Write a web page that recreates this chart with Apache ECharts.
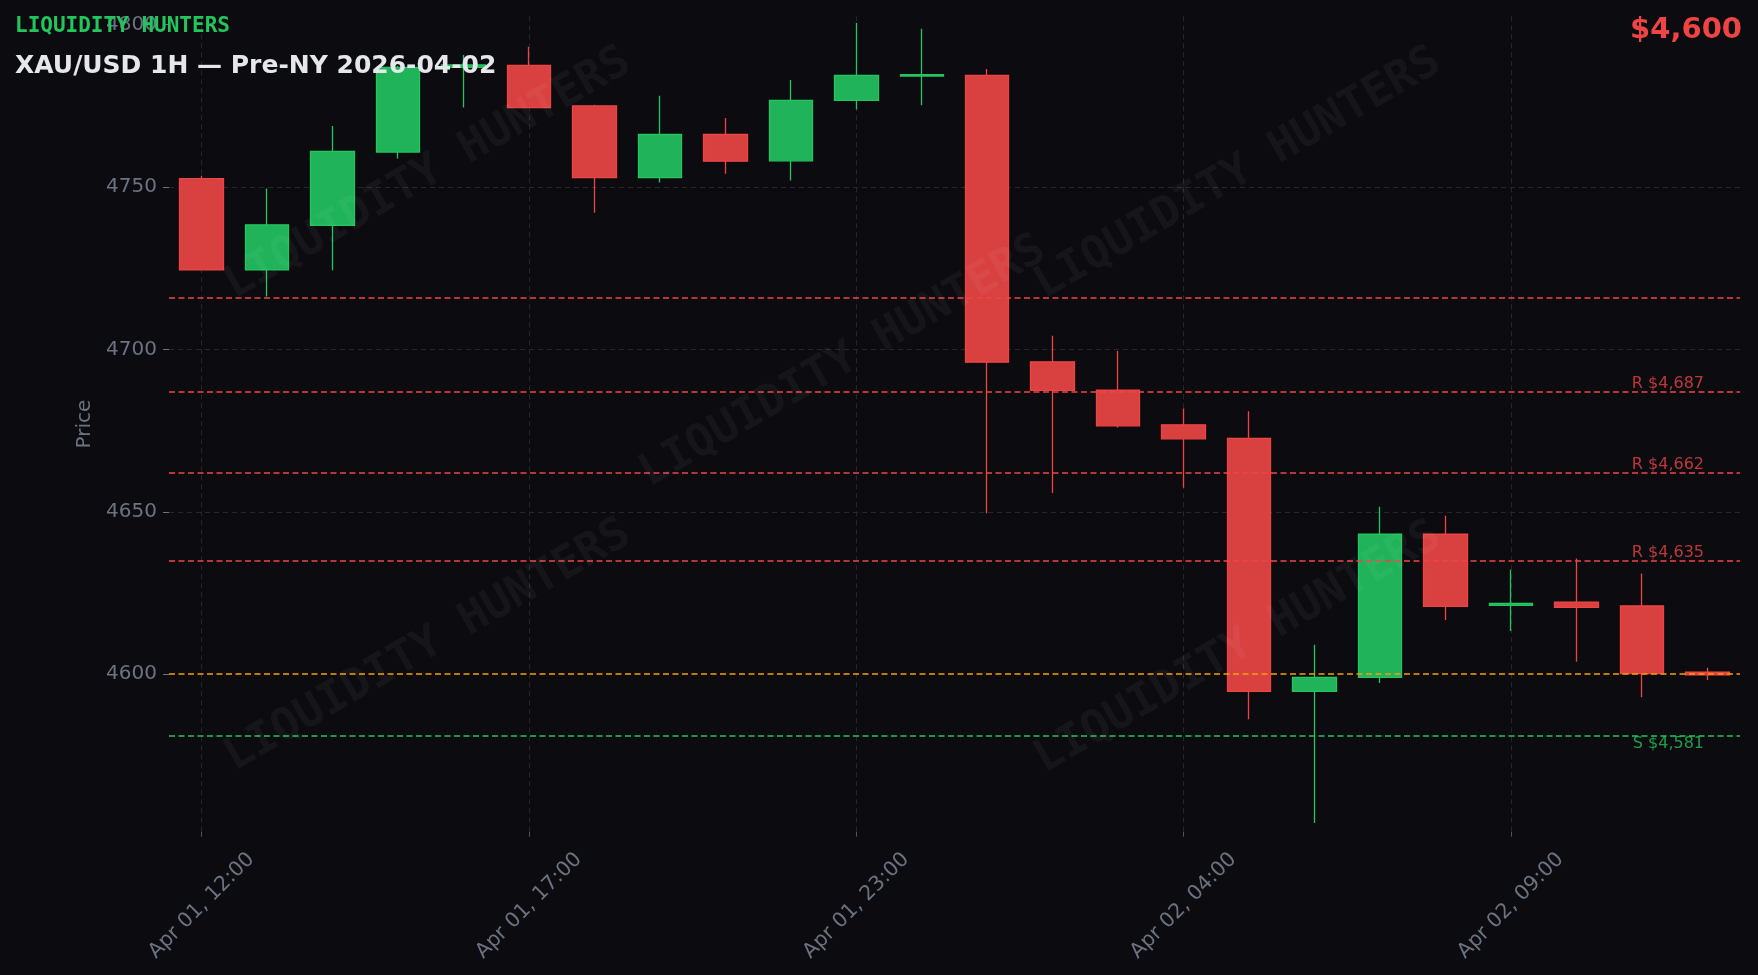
<!DOCTYPE html>
<html>
<head>
<meta charset="utf-8">
<script src="https://cdn.jsdelivr.net/npm/echarts@6/dist/echarts.min.js"></script>
<style>
html,body{margin:0;padding:0;background:#0c0c10;}
#chart{width:1758px;height:975px;}
</style>
</head>
<body>
<div id="chart"></div>
<script>
// ---- data ----
const categories = [
  'Apr 01, 12:00','Apr 01, 13:00','Apr 01, 14:00','Apr 01, 15:00','Apr 01, 16:00',
  'Apr 01, 17:00','Apr 01, 18:00','Apr 01, 19:00','Apr 01, 20:00','Apr 01, 21:00',
  'Apr 01, 23:00','Apr 02, 00:00','Apr 02, 01:00','Apr 02, 02:00','Apr 02, 03:00',
  'Apr 02, 04:00','Apr 02, 05:00','Apr 02, 06:00','Apr 02, 07:00','Apr 02, 08:00',
  'Apr 02, 09:00','Apr 02, 10:00','Apr 02, 11:00','Apr 02, 12:00'
];
const opens  = [4752.6,4724.5,4738.2,4760.8,4786.9,4787.5,4775.0,4752.9,4766.2,4758.1,4776.7,4784.2,4784.4,4696.2,4687.5,4676.8,4672.6,4594.7,4599.0,4643.1,4621.2,4622.2,4621.0,4600.6];
const closes = [4724.5,4738.4,4761.0,4786.9,4787.6,4774.5,4752.9,4766.2,4758.0,4776.7,4784.4,4784.6,4696.1,4687.4,4676.5,4672.5,4594.7,4599.0,4643.1,4620.9,4621.8,4620.6,4600.2,4599.8];
const lows   = [4724.5,4716.3,4724.4,4758.8,4774.5,4774.3,4742.1,4751.4,4754.1,4752.0,4773.9,4775.2,4649.6,4655.8,4676.0,4657.4,4586.1,4554.2,4597.3,4616.7,4613.3,4603.8,4592.9,4598.2];
const highs  = [4753.5,4749.6,4768.8,4787.4,4790.7,4793.2,4775.4,4778.1,4771.3,4783.0,4800.5,4798.8,4786.4,4704.2,4699.5,4681.8,4681.0,4609.1,4651.6,4648.8,4632.2,4635.6,4631.0,4602.0];

const resistanceLevels = [4716, 4687, 4662, 4635];
const resistanceLabels = ['', 'R $4,687', 'R $4,662', 'R $4,635'];
const supportLevels = [4581];
const supportLabels = ['S $4,581'];
const currentPrice = 4600;
const currentPriceText = '$4,600';
const yTickValues = [4600, 4650, 4700, 4750, 4800];
const chartTitle = 'XAU/USD 1H — Pre-NY 2026-04-02';
const brandText = 'LIQUIDITY HUNTERS';

// ---- build ----
const candleData = opens.map((o, i) => [o, closes[i], lows[i], highs[i]]);
const FONT = 'DejaVu Sans';
const GRID_COLOR = '#25262e';
const LABEL_COLOR = '#6b7280';

const markData = [];
resistanceLevels.forEach((v, i) => {
  markData.push({
    yAxis: v,
    lineStyle: {color: '#ef4444', type: [6, 3.5], width: 1.5},
    label: {show: !!resistanceLabels[i], formatter: resistanceLabels[i], position: 'insideEndTop',
            color: 'rgba(239,68,68,0.78)', fontSize: 16, fontFamily: FONT, distance: [36, 0]}
  });
});
markData.push({
  yAxis: currentPrice,
  lineStyle: {color: '#f59e0b', type: [6, 3.5], width: 1.5},
  label: {show: false}
});
supportLevels.forEach((v, i) => {
  markData.push({
    yAxis: v,
    lineStyle: {color: '#22c55e', type: [6, 3.5], width: 1.5},
    label: {show: true, formatter: supportLabels[i], position: 'insideEndBottom',
            color: 'rgba(34,197,94,0.78)', fontSize: 16, fontFamily: FONT, distance: [36, 0]}
  });
});

const wm = {fontFamily: 'DejaVu Sans Mono', fontWeight: 'bold', fontSize: 45,
            fill: 'rgba(255,255,255,0.045)', align: 'center', verticalAlign: 'middle'};
const watermarkPos = [[428,174],[843,362],[1238,174],[428,646],[1238,648]];

const chart = echarts.init(document.getElementById('chart'));
chart.setOption({
  backgroundColor: '#0c0c10',
  animation: false,
  textStyle: {fontFamily: FONT},
  title: [
    {text: brandText, left: 15, top: 16, padding: 0,
     textStyle: {fontFamily: 'DejaVu Sans Mono', fontWeight: 'bold', fontSize: 21, color: '#22c55e'}},
    {text: chartTitle, left: 15, top: 54, padding: 0,
     textStyle: {fontFamily: FONT, fontWeight: 'bold', fontSize: 25, color: '#e5e7eb'}},
    {text: currentPriceText, right: 16, top: 16, padding: 0,
     textStyle: {fontFamily: FONT, fontWeight: 'bold', fontSize: 29, color: '#ef4444'}}
  ],
  grid: {left: 169, right: 18, top: 16.3, bottom: 143.3, containLabel: false},
  xAxis: {
    type: 'category',
    data: categories,
    boundaryGap: true,
    axisLine: {show: false},
    axisTick: {show: true, alignWithLabel: true, interval: 4, length: 5, lineStyle: {color: '#4b5563'}},
    axisLabel: {interval: 4, rotate: 45, color: LABEL_COLOR, fontSize: 20.5, fontFamily: FONT,
                align: 'center', verticalAlign: 'middle', margin: 74},
    splitLine: {show: true, interval: 4, alignWithLabel: true, lineStyle: {color: GRID_COLOR, type: [5, 4], width: 1}}
  },
  yAxis: {
    type: 'value',
    min: 4551.5,
    max: 4802.6,
    scale: true,
    name: 'Price',
    nameLocation: 'middle',
    nameGap: 65,
    nameTextStyle: {color: LABEL_COLOR, fontSize: 20, fontFamily: FONT},
    axisLine: {show: false},
    axisTick: {show: true, length: 6, lineStyle: {color: '#6b7280'}, customValues: yTickValues},
    axisLabel: {color: LABEL_COLOR, fontSize: 20, fontFamily: FONT, margin: 12,
                customValues: yTickValues, formatter: v => String(Math.round(v))},
    splitLine: {show: true, showMinLine: false, showMaxLine: false,
                lineStyle: {color: GRID_COLOR, type: [5, 4], width: 1}}
  },
  series: [{
    type: 'candlestick',
    data: candleData,
    barWidth: 44,
    itemStyle: {
      color: '#20b35a', color0: '#d94141',
      borderColor: '#22c55e', borderColor0: '#ef4444',
      borderWidth: 1.3
    },
    markLine: {
      symbol: ['none', 'none'],
      silent: true,
      animation: false,
      data: markData
    }
  }],
  graphic: watermarkPos.map(p => ({
    type: 'text', x: p[0], y: p[1], rotation: Math.PI / 6, z: 100, silent: true,
    style: Object.assign({text: brandText}, wm)
  }))
});
</script>
</body>
</html>
